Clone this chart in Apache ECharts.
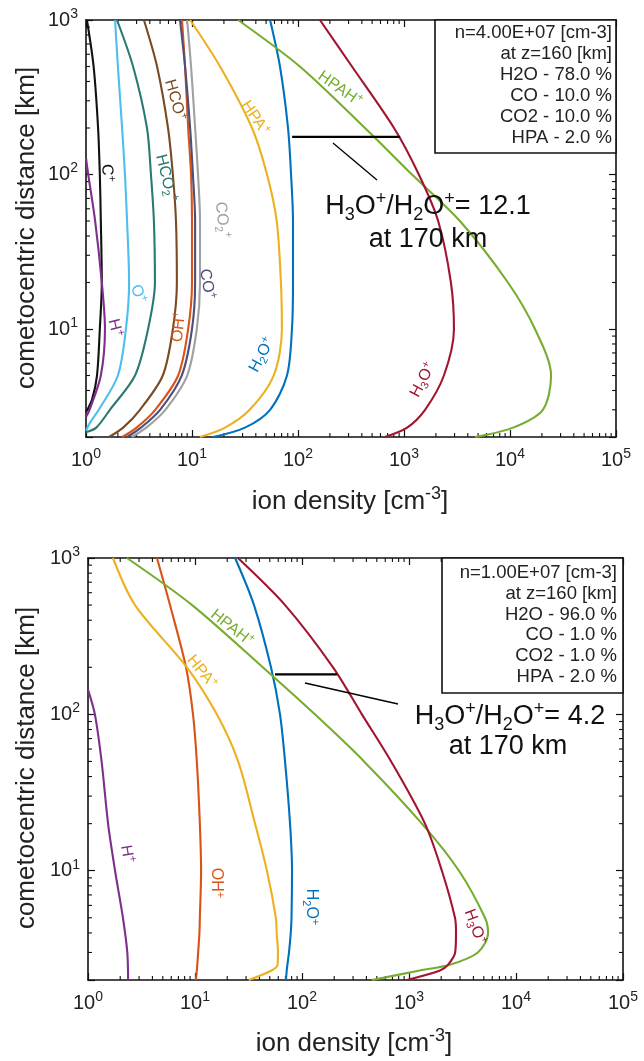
<!DOCTYPE html>
<html><head><meta charset="utf-8">
<script src="https://cdn.jsdelivr.net/npm/echarts@6/dist/echarts.min.js"></script>
<style>html,body{margin:0;padding:0;background:#fff}#c{width:644px;height:1061px}</style>
</head><body><div id="c"></div>
<script>
// ---------------- DATA ----------------
const xDecades = [0, 1, 2, 3, 4, 5];           // x tick labels 10^k
const yDecades = [1, 2, 3];                    // y tick labels 10^k

// Top panel (n=4.00E+07), cometocentric distance levels [km]
const rTop = [1000, 500, 200, 100, 50, 20, 10, 5, 3, 2.3, 2];
const topHCOp  = [3.52, 4.68, 5.94, 6.6, 7.06, 7.2, 6.6, 5.3, 3.23, 2.24, 1.65];
const topOHp   = [8.05, 8.6, 9.2, 9.8, 10.0, 10.0, 9.2, 7.4, 4.5, 3.0, 2.2];
const topCOp   = [7.7, 8.6, 9.6, 10.2, 10.7, 10.7, 10.0, 8.0, 5.0, 3.3, 2.44];
const topCO2p  = [9.0, 9.8, 10.7, 11.4, 11.9, 11.9, 11.1, 9.0, 5.6, 3.7, 2.7];
const topHPAp  = [9.6, 18.4, 36.8, 51, 63, 69, 70.5, 59, 35, 20.5, 11.9];
const topH2Op  = [54.5, 67.6, 80.5, 86, 89.7, 89.7, 87.7, 78.7, 54.5, 31.6, 15.8];
const topHPAHp = [27.2, 104, 428, 1190, 3370, 9560, 17200, 24400, 20400, 10700, 4680];
const topH3Op  = [161, 323, 805, 1380, 2100, 2770, 2960, 2380, 1580, 1070, 660];
const rTopC    = [1000, 500, 200, 100, 50, 20, 10, 5, 3.5, 2.9];
const topCp    = [1.02, 1.18, 1.30, 1.35, 1.38, 1.41, 1.35, 1.27, 1.14, 1.0];
const rTopH    = [128, 100, 50, 20, 10, 5, 3, 2.7];
const topHp    = [1.0, 1.05, 1.22, 1.41, 1.51, 1.38, 1.08, 1.0];
const rTopO    = [1000, 500, 200, 100, 50, 20, 10, 5, 3, 2.47, 2.2];
const topOp    = [1.88, 2.0, 2.19, 2.33, 2.44, 2.55, 2.38, 2.0, 1.32, 1.09, 1.0];
const rTopHCO2 = [1000, 500, 200, 100, 50, 20, 10, 5, 3, 2.3, 2.15];
const topHCO2p = [1.96, 2.78, 3.76, 4.1, 4.37, 4.47, 3.85, 2.9, 1.68, 1.25, 1.0];

// Bottom panel (n=1.00E+07)
const rBot = [1000, 500, 200, 100, 50, 20, 10, 5, 4, 3, 2.5, 2.3, 2];
const botOHp   = [4.41, 5.84, 8.24, 9.58, 10.4, 11.1, 11.4, 11.1, 11.0, 10.7, 10.5, 10.4, 10.2];
const botHPAp  = [1.71, 2.75, 8.4, 16, 25.3, 36.4, 47, 57, 58, 59.6, 59, 52, 31.8];
const botH2Op  = [23.7, 35.6, 51.3, 62.3, 69.4, 77.3, 80.7, 79.8, 78.5, 75.6, 73, 72, 70.8];
const botHPAHp = [2.31, 9.4, 43, 132, 380, 1320, 2930, 5130, 5480, 4400, 2400, 1260, 451];
const botH3Op  = [25.2, 69.5, 195, 363, 680, 1410, 2030, 2690, 2750, 2700, 2310, 1950, 955];
const rBotH    = [144, 100, 50, 20, 10, 5, 3, 2];
const botHp    = [1.0, 1.16, 1.34, 1.54, 1.79, 2.12, 2.33, 2.37];

// Ratio annotations: H2O+ .. H3O+ densities at ~170 km
const topBar = [88, 920];  const topBarR = 175;
const botBar = [56, 212];  const botBarR = 180;
const topRatio = '12.1';   const botRatio = '4.2';

const infoTop = ['n=4.00E+07 [cm-3]', 'at z=160 [km]', 'H2O - 78.0 %', 'CO - 10.0 %', 'CO2 - 10.0 %', 'HPA - 2.0 %'];
const infoBot = ['n=1.00E+07 [cm-3]', 'at z=160 [km]', 'H2O - 96.0 %', 'CO - 1.0 %', 'CO2 - 1.0 %', 'HPA - 2.0 %'];

// ---------------- STYLE ----------------
const FF = "'Liberation Sans', Arial, Helvetica, sans-serif";
const C = {
  Cp: '#111111', Hp: '#7E2F8E', Op: '#4DBEEE', HCO2p: '#2B7A70', HCOp: '#7A4A22',
  OHp: '#D95319', COp: '#4B4F7A', CO2p: '#A0A0A0', HPAp: '#EDB120', H2Op: '#0072BD',
  HPAHp: '#77AC30', H3Op: '#A2142F'
};

function pairs(xs, rs) { return xs.map((v, i) => [v, rs[i]]); }

function line(name, xs, rs, color, g) {
  return {
    name, type: 'line', xAxisIndex: g * 2, yAxisIndex: g * 2,
    data: pairs(xs, rs), showSymbol: false, symbol: 'none',
    smooth: 0.3, clip: true,
    lineStyle: { color, width: 2.1 }, z: 3, silent: true
  };
}
function bar(xs, r, g) {
  return {
    type: 'line', xAxisIndex: g * 2, yAxisIndex: g * 2,
    data: xs.map(v => [v, r]), showSymbol: false, symbol: 'none',
    lineStyle: { color: '#000', width: 2.2 }, z: 5, silent: true
  };
}

const supRich = {
  b: { fontSize: 20, fontFamily: FF, color: '#222', lineHeight: 26, verticalAlign: 'middle' },
  s: { fontSize: 14, fontFamily: FF, color: '#222', lineHeight: 13, verticalAlign: 'top' }
};
function decFmt(v) {
  const e = Math.log10(v); const k = Math.round(e);
  if (Math.abs(e - k) > 1e-6) return '';
  return '{b|10}{s|' + k + '}';
}

function xAx(g, pos, labels) {
  return {
    type: 'log', logBase: 10, min: 1, max: 100000, gridIndex: g, position: pos, splitNumber: 5,
    axisLine: { show: true, onZero: false, lineStyle: { color: '#111', width: 1.6 } },
    axisTick: { show: true, inside: true, length: 7, lineStyle: { color: '#111', width: 1.2 } },
    splitLine: { show: false }, minorTick: { show: false },
    axisLabel: { show: labels, margin: 10, formatter: decFmt, rich: supRich }
  };
}
function yAx(g, pos, labels) {
  return {
    type: 'log', logBase: 10, min: 2, max: 1000, gridIndex: g, position: pos,
    axisLine: { show: true, onZero: false, lineStyle: { color: '#111', width: 1.6 } },
    axisTick: { show: true, inside: true, length: 7, lineStyle: { color: '#111', width: 1.2 } },
    splitLine: { show: false }, minorTick: { show: false },
    axisLabel: { show: labels, margin: 8, formatter: decFmt, rich: supRich }
  };
}

// minor tick positions (axis decoration)
const xMinor = []; for (let k = 0; k < 5; k++) for (let m = 2; m <= 9; m++) xMinor.push(m * Math.pow(10, k));
const yMinor = []; for (let k = 0; k < 3; k++) for (let m = 2; m <= 9; m++) { const v = m * Math.pow(10, k); if (v > 2) yMinor.push(v); }

function minorX(g) {
  return {
    type: 'custom', xAxisIndex: g * 2, yAxisIndex: g * 2, silent: true, z: 2,
    data: xMinor.map(v => [v, 10]),
    renderItem: (params, api) => {
      const p = api.coord([api.value(0), api.value(1)]); const cs = params.coordSys;
      const st = { stroke: '#111', lineWidth: 1.1 };
      return { type: 'group', children: [
        { type: 'line', shape: { x1: p[0], y1: cs.y + cs.height, x2: p[0], y2: cs.y + cs.height - 4 }, style: st },
        { type: 'line', shape: { x1: p[0], y1: cs.y, x2: p[0], y2: cs.y + 4 }, style: st }
      ]};
    }
  };
}
function minorY(g) {
  return {
    type: 'custom', xAxisIndex: g * 2, yAxisIndex: g * 2, silent: true, z: 2,
    data: yMinor.map(v => [10, v]),
    renderItem: (params, api) => {
      const p = api.coord([api.value(0), api.value(1)]); const cs = params.coordSys;
      const st = { stroke: '#111', lineWidth: 1.1 };
      return { type: 'group', children: [
        { type: 'line', shape: { x1: cs.x, y1: p[1], x2: cs.x + 4, y2: p[1] }, style: st },
        { type: 'line', shape: { x1: cs.x + cs.width, y1: p[1], x2: cs.x + cs.width - 4, y2: p[1] }, style: st }
      ]};
    }
  };
}

// ---------------- TEXT GRAPHICS ----------------
function richSet(fs, color) {
  return {
    n: { fontSize: fs, fontFamily: FF, fill: color, lineHeight: Math.round(fs * 1.25), verticalAlign: 'middle' },
    p: { fontSize: Math.round(fs * 0.68), fontFamily: FF, fill: color, lineHeight: Math.round(fs * 0.7), verticalAlign: 'top' },
    d: { fontSize: Math.round(fs * 0.68), fontFamily: FF, fill: color, lineHeight: Math.round(fs * 0.7), verticalAlign: 'bottom' }
  };
}
function txt(x, y, text, color, fs, rotDeg, align) {
  return {
    type: 'text', x, y, rotation: (rotDeg || 0) * Math.PI / 180, z: 50, silent: true,
    style: { text, fill: color, fontSize: fs, fontFamily: FF, align: align || 'center', verticalAlign: 'middle', rich: richSet(fs, color) }
  };
}
function seg(x1, y1, x2, y2, w) {
  return { type: 'line', z: 50, silent: true, shape: { x1, y1, x2, y2 }, style: { stroke: '#000', lineWidth: w || 1.3 } };
}
function infoBox(x, y, w, h, lines, rx, y0, dy) {
  const els = [{ type: 'rect', z: 40, silent: true, shape: { x, y, width: w, height: h }, style: { fill: '#fff', stroke: '#111', lineWidth: 1.6 } }];
  lines.forEach((s, i) => els.push({ type: 'text', z: 41, silent: true, x: rx, y: y0 + i * dy,
    style: { text: s, fill: '#222', fontSize: 18.5, fontFamily: FF, align: 'right', verticalAlign: 'middle' } }));
  return els;
}

const LF = 16;
const graphics = [
  // top panel curve labels
  txt(107, 173, '{n|C}{p|+}', C.Cp, LF, -88),
  txt(175, 100, '{n|HCO}{p|+}', C.HCOp, LF, -74),
  txt(166, 178, '{n|HCO}{d|2}{p|+}', C.HCO2p, LF, -76),
  txt(222, 220, '{n|CO}{d|2}{p|+}', C.CO2p, LF, -84),
  txt(255, 118, '{n|HPA}{p|+}', C.HPAp, LF, -56),
  txt(340, 89, '{n|HPAH}{p|+}', C.HPAHp, LF, -35),
  txt(207, 284, '{n|CO}{p|+}', C.COp, LF, -80),
  txt(138, 294, '{n|O}{p|+}', C.Op, LF, -70),
  txt(115, 328, '{n|H}{p|+}', C.Hp, LF, -76),
  txt(179, 327, '{n|OH}{p|+}', C.OHp, LF, 84),
  txt(262, 355, '{n|H}{d|2}{n|O}{p|+}', C.H2Op, LF, 62),
  txt(423, 380, '{n|H}{d|3}{n|O}{p|+}', C.H3Op, LF, 62),
  // bottom panel curve labels
  txt(232, 628, '{n|HPAH}{p|+}', C.HPAHp, LF, -38),
  txt(202, 672, '{n|HPA}{p|+}', C.HPAp, LF, -51),
  txt(127, 854, '{n|H}{p|+}', C.Hp, LF, -80),
  txt(216, 883, '{n|OH}{p|+}', C.OHp, LF, -90),
  txt(311, 907, '{n|H}{d|2}{n|O}{p|+}', C.H2Op, LF, -90),
  txt(475, 927, '{n|H}{d|3}{n|O}{p|+}', C.H3Op, LF, -70),
  // ratio annotations
  seg(333, 143, 377, 180),
  txt(428, 207, '{n|H}{d|3}{n|O}{p|+}{n|/H}{d|2}{n|O}{p|+}{n|= ' + topRatio + '}', '#111', 27, 0),
  txt(428, 240, '{n|at 170 km}', '#111', 27, 0),
  seg(305, 683, 398, 704),
  txt(510, 717, '{n|H}{d|3}{n|O}{p|+}{n|/H}{d|2}{n|O}{p|+}{n|= ' + botRatio + '}', '#111', 27, 0),
  txt(508, 747, '{n|at 170 km}', '#111', 27, 0),
  // axis titles
  txt(350, 502, '{n|ion density [cm}{p|-3}{n|]}', '#222', 26, 0),
  txt(354, 1044, '{n|ion density [cm}{p|-3}{n|]}', '#222', 26, 0),
  txt(27, 228, '{n|cometocentric distance [km]}', '#222', 26, 90),
  txt(27, 768, '{n|cometocentric distance [km]}', '#222', 26, 90)
].concat(
  infoBox(435, 20, 181, 133, infoTop, 612, 33, 21),
  infoBox(442, 558, 181, 135, infoBot, 617, 573, 20.8)
);

// ---------------- OPTION ----------------
const series = [
  minorX(0), minorY(0), minorX(1), minorY(1),
  line('C+', topCp, rTopC, C.Cp, 0),
  line('H+', topHp, rTopH, C.Hp, 0),
  line('O+', topOp, rTopO, C.Op, 0),
  line('HCO2+', topHCO2p, rTopHCO2, C.HCO2p, 0),
  line('HCO+', topHCOp, rTop, C.HCOp, 0),
  line('OH+', topOHp, rTop, C.OHp, 0),
  line('CO+', topCOp, rTop, C.COp, 0),
  line('CO2+', topCO2p, rTop, C.CO2p, 0),
  line('HPA+', topHPAp, rTop, C.HPAp, 0),
  line('H2O+', topH2Op, rTop, C.H2Op, 0),
  line('HPAH+', topHPAHp, rTop, C.HPAHp, 0),
  line('H3O+', topH3Op, rTop, C.H3Op, 0),
  bar(topBar, topBarR, 0),
  line('H+', botHp, rBotH, C.Hp, 1),
  line('OH+', botOHp, rBot, C.OHp, 1),
  line('HPA+', botHPAp, rBot, C.HPAp, 1),
  line('H2O+', botH2Op, rBot, C.H2Op, 1),
  line('HPAH+', botHPAHp, rBot, C.HPAHp, 1),
  line('H3O+', botH3Op, rBot, C.H3Op, 1),
  bar(botBar, botBarR, 1)
];

const chart = echarts.init(document.getElementById('c'), null, { renderer: 'canvas' });
chart.setOption({
  animation: false,
  backgroundColor: '#fff',
  grid: [
    { left: 86, top: 20, width: 530, height: 417, containLabel: false },
    { left: 88, top: 558, width: 535, height: 422, containLabel: false }
  ],
  xAxis: [xAx(0, 'bottom', true), xAx(0, 'top', false), xAx(1, 'bottom', true), xAx(1, 'top', false)],
  yAxis: [yAx(0, 'left', true), yAx(0, 'right', false), yAx(1, 'left', true), yAx(1, 'right', false)],
  series,
  graphic: graphics
});
</script></body></html>
